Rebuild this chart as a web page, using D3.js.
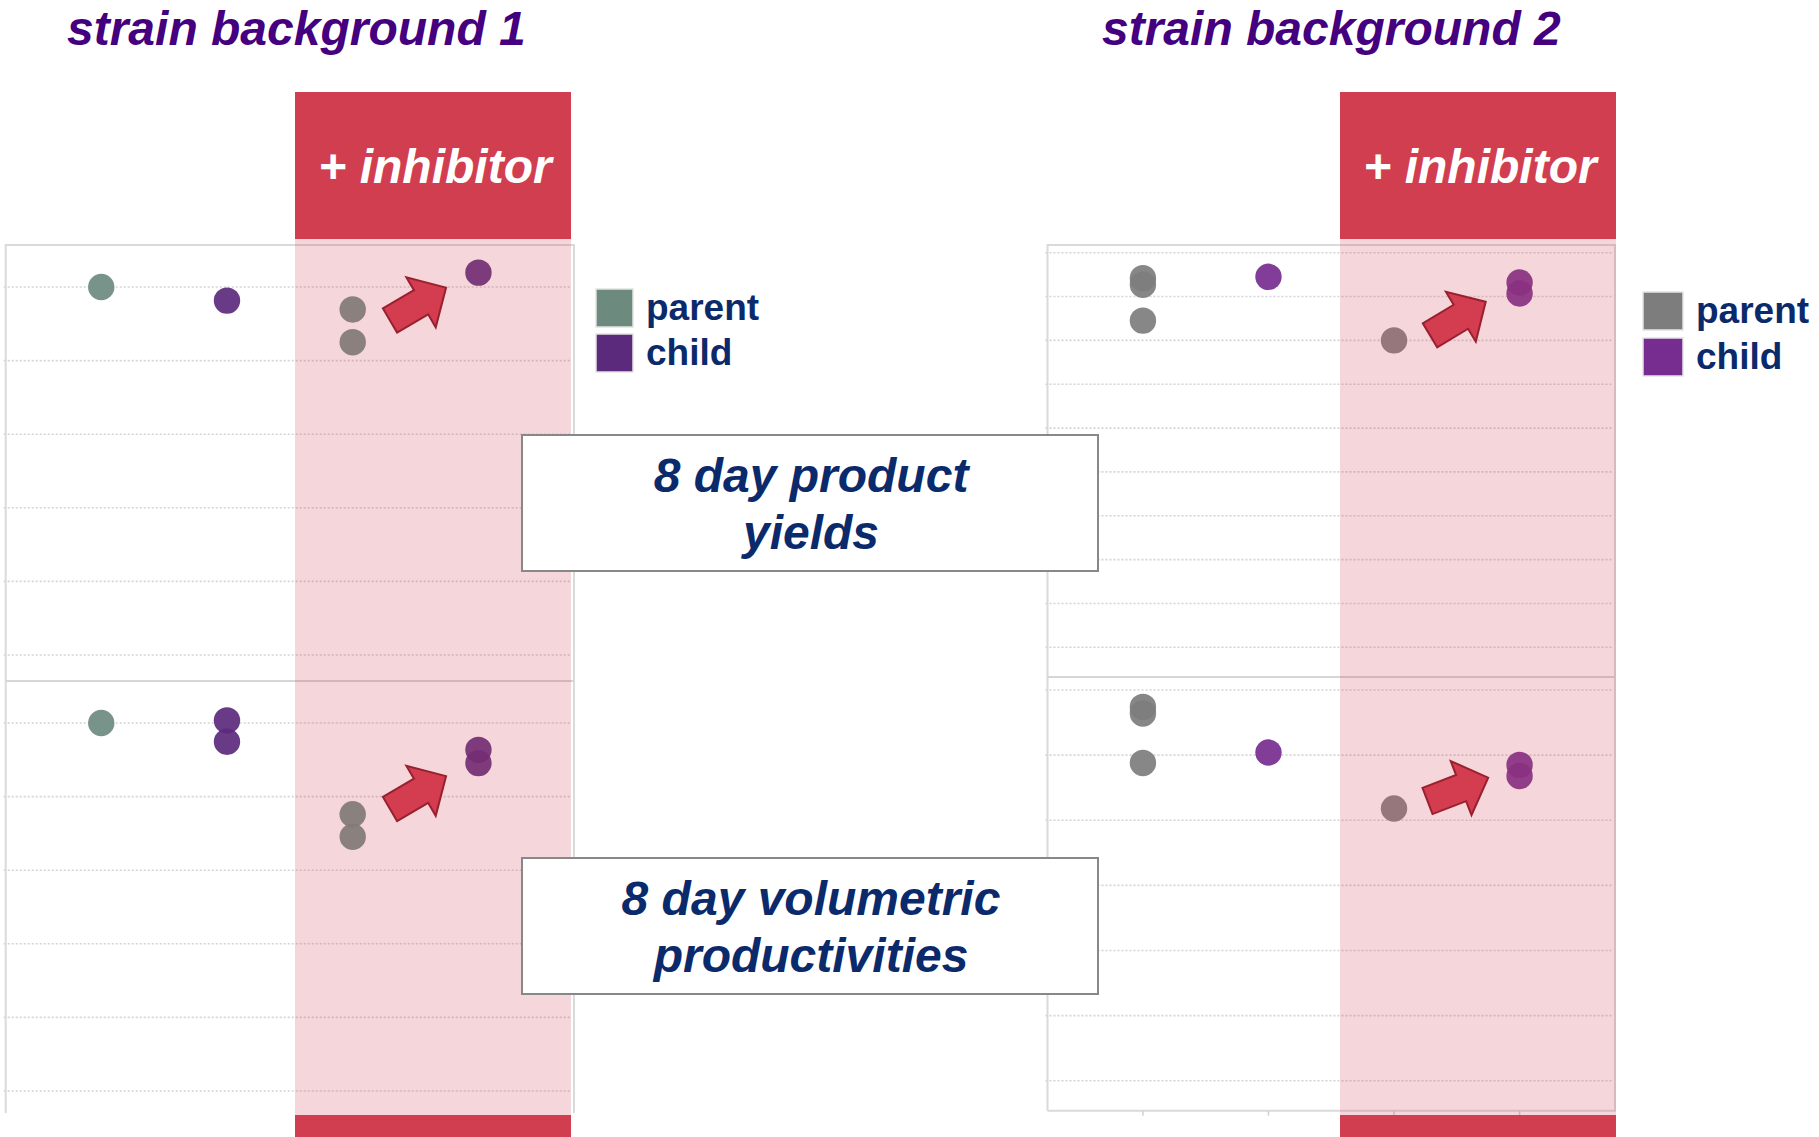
<!DOCTYPE html>
<html>
<head>
<meta charset="utf-8">
<script src="https://cdn.jsdelivr.net/npm/d3@7"></script>
<style>
  body { margin: 0; background: #fff; }
  text { font-family: "Liberation Sans", Arial, sans-serif; font-weight: bold; }
</style>
</head>
<body>
<svg class="chart"></svg>
<script>
// Global setup
var width = 1819;
var height = 1137;
var font = '"Liberation Sans", Arial, sans-serif';

// Data (relative values)
var categories = ['parent', 'child', 'parent + inhibitor', 'child + inhibitor'];
var seriesOf = ['parent', 'child', 'parent', 'child'];
var legendLabels = ['parent', 'child'];

var bg1Yield = [[1.00], [0.963], [0.939, 0.850], [1.039]];
var bg1Prod = [[1.00], [1.007, 0.949], [0.752, 0.691], [0.927, 0.891]];
var bg2Yield = [[1.042, 1.027, 0.945], [1.045], [0.900], [1.032, 1.007]];
var bg2Prod = [[1.074, 1.064, 0.988], [1.004], [0.918], [0.985, 0.968]];

var bg1Ticks = [0, 0.2, 0.4, 0.6, 0.8, 1.0];
var bg2YieldTicks = [0.2, 0.3, 0.4, 0.5, 0.6, 0.7, 0.8, 0.9, 1.0, 1.1];
var bg2ProdTicks = [0.5, 0.6, 0.7, 0.8, 0.9, 1.0, 1.1];

var titles = ['strain background 1', 'strain background 2'];
var boxTexts = [['8 day product', 'yields'], ['8 day volumetric', 'productivities']];

// Panel layout
var panels = [
  {
    title: titles[0], titleX: 67,
    left: 5.7, right: 574, shadeX: [295, 571], bottom: 1113, split: 681, ticks: false,
    colors: {parent: '#6d8a7f', child: '#5c2a7d'},
    legendX: 596, legendY: [289, 334], legendW: 37,
    charts: [
      {values: bg1Yield, ticks: bg1Ticks, domain: [0, 1], range: [655, 287]},
      {values: bg1Prod, ticks: bg1Ticks, domain: [0, 1], range: [1091, 723]}
    ],
    arrows: [{x: 390, y: 320.5, angle: -30.4}, {x: 390, y: 809, angle: -30.4}]
  },
  {
    title: titles[1], titleX: 1102,
    left: 1047.5, right: 1615, shadeX: [1340, 1616], bottom: 1110.7, split: 677, ticks: true,
    colors: {parent: '#7d7d7d', child: '#772c8f'},
    legendX: 1643, legendY: [292, 338], legendW: 40,
    charts: [
      {values: bg2Yield, ticks: bg2YieldTicks, domain: [0.2, 1.1], range: [647.3, 252.7]},
      {values: bg2Prod, ticks: bg2ProdTicks, domain: [0.5, 1.1], range: [1080.7, 690]}
    ],
    arrows: [{x: 1430, y: 335.3, angle: -31}, {x: 1427.5, y: 801, angle: -21}]
  }
];

var arrowShape = [[0, -14], [36, -14], [36, -29], [65, 0], [36, 29], [36, 14], [0, 14]];

var svg = d3.select('.chart')
  .attr('width', width)
  .attr('height', height);

function drawPanel (p) {
  var g = svg.append('g');
  var x = d3.scalePoint()
    .domain(categories)
    .range([p.left, p.right])
    .padding(0.76);

  // frame
  g.append('path')
    .attr('d', 'M' + p.left + ',' + p.bottom + 'V245H' + p.right + 'V' + p.bottom +
      (p.ticks ? 'H' + p.left : ''))
    .attr('fill', 'none')
    .attr('stroke', '#dadada')
    .attr('stroke-width', 2);
  g.append('line')
    .attr('x1', p.left).attr('x2', p.right)
    .attr('y1', p.split).attr('y2', p.split)
    .attr('stroke', '#d6d6d6')
    .attr('stroke-width', 2);

  if (p.ticks) {
    g.selectAll('.tick-mark')
      .data(categories)
      .enter()
      .append('line')
      .attr('x1', function (d) { return x(d); })
      .attr('x2', function (d) { return x(d); })
      .attr('y1', p.bottom).attr('y2', p.bottom + 5)
      .attr('stroke', '#cfcfcf')
      .attr('stroke-width', 1.5);
  }

  p.charts.forEach(function (c) {
    var y = d3.scaleLinear().domain(c.domain).range(c.range);

    g.append('g')
      .selectAll('line')
      .data(c.ticks)
      .enter()
      .append('line')
      .attr('x1', p.left - 2).attr('x2', p.right - 3)
      .attr('y1', function (d) { return y(d); })
      .attr('y2', function (d) { return y(d); })
      .attr('stroke', '#d4d4d4')
      .attr('stroke-width', 1.6)
      .attr('stroke-dasharray', '2,2');

    var pts = [];
    c.values.forEach(function (vals, i) {
      vals.forEach(function (v) {
        pts.push({cat: categories[i], series: seriesOf[i], value: v});
      });
    });

    g.append('g')
      .selectAll('circle')
      .data(pts)
      .enter()
      .append('circle')
      .attr('cx', function (d) { return x(d.cat); })
      .attr('cy', function (d) { return y(d.value); })
      .attr('r', 13.2)
      .attr('fill', function (d) { return p.colors[d.series]; })
      .attr('fill-opacity', 0.92);
  });

  // inhibitor shading over the last two columns
  g.append('rect')
    .attr('x', p.shadeX[0]).attr('y', 238)
    .attr('width', p.shadeX[1] - p.shadeX[0])
    .attr('height', 1115 - 238)
    .attr('fill', 'rgb(210,63,80)')
    .attr('fill-opacity', 0.21);

  // header and footer bars
  g.append('rect')
    .attr('x', p.shadeX[0]).attr('y', 92)
    .attr('width', p.shadeX[1] - p.shadeX[0]).attr('height', 147)
    .attr('fill', '#d13e50');
  g.append('rect')
    .attr('x', p.shadeX[0]).attr('y', 1115)
    .attr('width', p.shadeX[1] - p.shadeX[0]).attr('height', 22)
    .attr('fill', '#d13e50');
  g.append('text')
    .attr('x', (p.shadeX[0] + p.shadeX[1]) / 2 + 2)
    .attr('y', 183)
    .attr('text-anchor', 'middle')
    .attr('fill', '#fff')
    .style('font-size', '48px')
    .style('font-style', 'italic')
    .text('+ inhibitor');

  // arrows
  g.selectAll('.arrow')
    .data(p.arrows)
    .enter()
    .append('polygon')
    .attr('points', arrowShape.map(function (d) { return d.join(','); }).join(' '))
    .attr('transform', function (d) {
      return 'translate(' + d.x + ',' + d.y + ') rotate(' + d.angle + ')';
    })
    .attr('fill', '#d33d4f')
    .attr('stroke', '#98202f')
    .attr('stroke-width', 2)
    .attr('stroke-linejoin', 'miter');

  // title
  g.append('text')
    .attr('x', p.titleX)
    .attr('y', 45)
    .attr('fill', '#44007f')
    .style('font-size', '48px')
    .style('font-style', 'italic')
    .text(p.title);

  // legend
  var leg = g.selectAll('.legend')
    .data(legendLabels)
    .enter()
    .append('g');
  leg.append('rect')
    .attr('x', p.legendX)
    .attr('y', function (d, i) { return p.legendY[i]; })
    .attr('width', p.legendW)
    .attr('height', 38)
    .attr('fill', function (d) { return p.colors[d]; })
    .attr('stroke', '#e4e4e4')
    .attr('stroke-width', 1.5);
  leg.append('text')
    .attr('x', p.legendX + p.legendW + 13)
    .attr('y', function (d, i) { return p.legendY[i] + 31; })
    .attr('fill', '#0b2a6b')
    .style('font-size', '37px')
    .text(function (d) { return d; });
}

panels.forEach(drawPanel);

// metric label boxes
var boxes = svg.selectAll('.label-box')
  .data(boxTexts)
  .enter()
  .append('g');
boxes.append('rect')
  .attr('x', 522)
  .attr('y', function (d, i) { return i === 0 ? 435 : 858; })
  .attr('width', 576)
  .attr('height', 136)
  .attr('fill', '#fff')
  .attr('stroke', '#888')
  .attr('stroke-width', 2);
boxes.each(function (lines, i) {
  var top = i === 0 ? 435 : 858;
  d3.select(this).selectAll('text')
    .data(lines)
    .enter()
    .append('text')
    .attr('x', 811)
    .attr('y', function (d, j) { return top + 57 + j * 57; })
    .attr('text-anchor', 'middle')
    .attr('fill', '#0b2a6b')
    .style('font-size', '48px')
    .style('font-style', 'italic')
    .text(function (d) { return d; });
});
</script>
</body>
</html>
